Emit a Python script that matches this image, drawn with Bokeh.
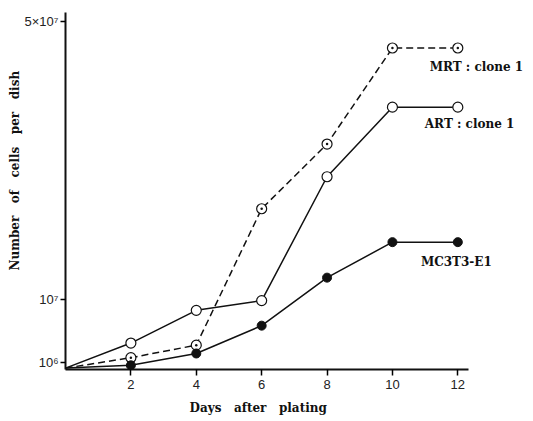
from bokeh.plotting import figure
from bokeh.models import Range1d, FixedTicker, Label, Title
from bokeh.embed import file_html
from bokeh.resources import INLINE

# Data (cells per dish, in units of 10^6)
days = [0, 2, 4, 6, 8, 10, 12]
mrt_clone1 = [0.2, 1.7, 3.5, 23.1, 32.4, 46.2, 46.2]
art_clone1 = [0.2, 3.8, 8.5, 9.9, 27.7, 37.7, 37.7]
mc3t3_e1 = [0.2, 0.6, 2.3, 6.3, 13.2, 18.3, 18.3]

series_labels = ["MRT : clone 1", "ART : clone 1", "MC3T3-E1"]
x_ticks = [2, 4, 6, 8, 10, 12]
y_ticks = [1, 10, 50]
y_tick_labels = ["10\u2076", "10\u2077", "5\u00d710\u2077"]

NB = "\u00a0"
p = figure(frame_width=460, frame_height=357, output_backend="svg", toolbar_location=None,
           x_range=Range1d(0, 14.07), y_range=Range1d(0, 51.3),
           min_border_left=65, min_border_right=8, min_border_top=12, min_border_bottom=52)
p.outline_line_color = None
p.xgrid.grid_line_color = None
p.ygrid.grid_line_color = None
p.background_fill_color = "white"

serif = "DejaVu Serif"
sans = "Liberation Sans"

# Axes
p.xaxis.ticker = FixedTicker(ticks=x_ticks)
p.xaxis.bounds = (0, 12.34)
p.xaxis.axis_line_width = 2
p.xaxis.axis_line_color = "#111111"
p.xaxis.major_tick_out = 6
p.xaxis.major_tick_in = 0
p.xaxis.major_tick_line_width = 1.5
p.xaxis.minor_tick_line_color = None
p.xaxis.major_label_text_font = sans
p.xaxis.major_label_text_font_size = "13px"
p.xaxis.major_label_text_color = "#222222"
p.xaxis.major_label_standoff = 4

p.yaxis.ticker = FixedTicker(ticks=y_ticks)
p.yaxis.major_label_overrides = {t: l for t, l in zip(y_ticks, y_tick_labels)}
p.yaxis.axis_line_width = 2
p.yaxis.axis_line_color = "#111111"
p.yaxis.major_tick_out = 5
p.yaxis.major_tick_in = 0
p.yaxis.major_tick_line_width = 1.5
p.yaxis.minor_tick_line_color = None
p.yaxis.major_label_text_font = sans
p.yaxis.major_label_text_font_size = "13px"
p.yaxis.major_label_text_color = "#222222"
p.yaxis.major_label_standoff = 2

# Axis titles (placed as titles so they can be offset like the reference)
p.add_layout(Title(text=(NB * 2 + " ").join(["Number", "of", "cells", "per", "dish"]),
                   align="left", offset=99, standoff=0,
                   text_font=serif, text_font_style="bold", text_font_size="12px",
                   text_color="#111111"), "left")
p.add_layout(Title(text=(NB * 3).join(["Days", "after", "plating"]),
                   align="left", offset=124, standoff=15,
                   text_font=serif, text_font_style="bold", text_font_size="12px",
                   text_color="#111111"), "below")

# Series
p.line(days, mrt_clone1, line_color="#111111", line_width=1.5, line_dash="7 4")
p.scatter(days[1:], mrt_clone1[1:], marker="circle_dot", size=10, line_color="#111111",
          fill_color="white", line_width=1.2)

p.line(days, art_clone1, line_color="#111111", line_width=1.5)
p.scatter(days[1:], art_clone1[1:], marker="circle", size=10, line_color="#111111",
          fill_color="white", line_width=1.2)

p.line(days, mc3t3_e1, line_color="#111111", line_width=1.5)
p.scatter(days[1:], mc3t3_e1[1:], marker="circle", size=9, line_color="#111111",
          fill_color="#111111")

# Series labels
label_pos = [(11.14, 43.5), (10.99, 35.3), (10.87, 15.4)]
for (lx, ly), txt in zip(label_pos, series_labels):
    p.add_layout(Label(x=lx, y=ly, text=txt, text_align="left", text_baseline="middle",
                       text_font=serif, text_font_style="bold", text_font_size="12px",
                       text_color="#111111"))

open("out.html", "w").write(file_html(p, INLINE))
